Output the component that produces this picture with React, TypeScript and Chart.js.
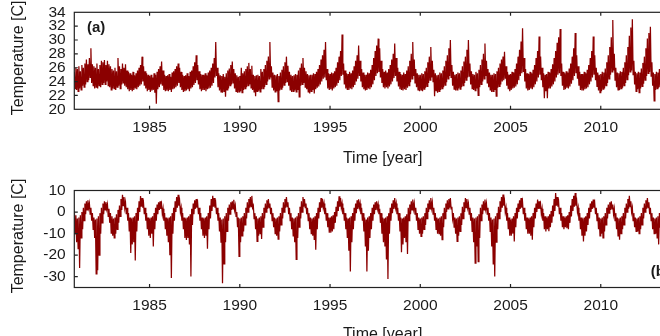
import { useEffect, useRef } from "react";
import { Chart, registerables } from "chart.js";

Chart.register(...registerables);

// Semi-monthly samples (alternating upper / lower reading of the daily band),
// starting with the first half of November 1980.
const FIRST_SAMPLE_YEAR = 1980 + 20 / 24;
const SAMPLES_PER_YEAR = 24;

const X_MIN = 1980.83;
const X_MAX = 2015;

const yearTicks = [1985, 1990, 1995, 2000, 2005, 2010];
const upperTicks = [20, 22, 24, 26, 28, 30, 32, 34];
const lowerTicks = [-30, -20, -10, 0, 10];

// Panel (a) temperature [C]
const tempA: number[] = [
  25.4, 23.0, 26.0, 22.8, // 1980
  25.8, 22.6, 26.2, 23.0, 25.5, 22.8, 26.4, 23.4, 26.0, 23.2, 26.6, 23.6, 27.2, 24.0, 26.5, 24.2, 27.4, 24.6, 28.8, 23.8, 26.5, 23.4, 26.2, 23.0, // 1981
  26.0, 23.2, 26.6, 23.0, 25.8, 23.4, 26.4, 23.2, 27.0, 23.6, 26.8, 23.8, 27.1, 23.6, 26.4, 24.0, 27.0, 23.4, 26.5, 23.2, 26.2, 22.8, 25.8, 23.0, // 1982
  25.6, 23.0, 26.0, 22.8, 25.5, 23.2, 27.4, 23.4, 26.2, 23.0, 25.8, 23.6, 26.6, 23.8, 26.0, 23.4, 26.5, 23.2, 25.6, 22.9, 25.4, 22.6, 25.2, 22.8, // 1983
  25.0, 22.6, 25.4, 22.8, 24.9, 23.0, 25.2, 22.9, 25.6, 23.2, 26.0, 23.4, 26.4, 23.6, 27.6, 24.0, 26.2, 23.4, 25.5, 23.0, 25.2, 22.6, 25.0, 22.8, // 1984
  24.8, 22.5, 25.0, 22.7, 24.6, 22.8, 25.2, 22.4, 25.0, 20.8, 25.4, 22.9, 25.8, 23.2, 26.2, 23.6, 26.9, 23.4, 25.6, 22.8, 25.0, 22.6, 24.8, 22.7, // 1985
  24.9, 22.6, 25.1, 22.8, 24.7, 22.5, 25.3, 22.9, 25.5, 23.0, 25.8, 23.2, 26.2, 23.4, 26.6, 23.8, 26.0, 23.2, 25.4, 22.8, 25.0, 22.5, 24.8, 22.6, // 1986
  24.9, 22.7, 25.2, 22.9, 24.8, 22.6, 25.4, 23.0, 25.6, 23.2, 26.2, 23.5, 26.8, 23.8, 27.8, 24.2, 26.4, 23.6, 25.5, 22.9, 25.1, 22.6, 25.0, 22.8, // 1987
  25.0, 22.8, 25.2, 22.6, 24.9, 22.9, 25.3, 23.0, 25.6, 23.1, 26.0, 23.4, 26.6, 23.8, 27.4, 24.6, 29.7, 24.8, 26.0, 23.2, 25.2, 22.7, 24.9, 22.5, // 1988
  24.8, 22.4, 25.1, 22.6, 24.7, 21.8, 25.2, 22.8, 25.6, 23.0, 25.9, 23.4, 26.4, 23.6, 26.9, 23.8, 25.8, 23.0, 25.2, 22.6, 24.9, 22.4, 24.7, 22.5, // 1989
  24.8, 22.6, 26.0, 22.4, 25.2, 22.8, 25.5, 23.0, 25.8, 23.2, 26.2, 23.4, 26.7, 23.6, 25.8, 23.1, 26.3, 22.8, 25.0, 22.5, 24.8, 21.9, 24.9, 22.6, // 1990
  25.0, 22.7, 24.8, 22.5, 25.8, 22.9, 25.4, 23.0, 25.8, 23.2, 26.4, 23.6, 27.0, 24.0, 27.6, 24.4, 29.7, 24.6, 26.2, 23.2, 25.3, 22.7, 25.0, 22.5, // 1991
  24.9, 22.6, 25.1, 21.1, 24.8, 22.7, 25.3, 22.9, 25.7, 23.1, 26.2, 23.5, 26.8, 23.8, 27.6, 24.0, 26.3, 23.4, 25.4, 22.8, 25.0, 22.5, 24.8, 22.6, // 1992
  24.9, 22.7, 25.1, 22.5, 25.0, 22.8, 25.6, 21.8, 26.0, 23.4, 26.6, 23.6, 27.4, 23.8, 26.0, 23.2, 25.5, 22.9, 25.1, 22.5, 24.9, 22.3, 25.0, 22.6, // 1993
  25.0, 22.8, 25.2, 22.3, 25.1, 22.9, 25.4, 23.1, 25.8, 23.3, 26.4, 23.6, 27.2, 24.0, 27.8, 24.4, 28.6, 24.6, 29.7, 24.2, 25.8, 23.0, 25.2, 22.8, // 1994
  25.1, 22.9, 25.3, 22.7, 25.2, 23.0, 25.5, 23.2, 26.0, 23.4, 26.8, 23.8, 27.6, 24.2, 28.4, 24.8, 30.8, 25.0, 26.6, 23.6, 25.6, 23.0, 25.2, 22.8, // 1995
  25.1, 22.8, 25.4, 23.0, 25.2, 22.9, 25.6, 23.2, 26.2, 23.5, 27.0, 24.0, 27.8, 24.4, 29.2, 24.8, 27.0, 24.0, 25.8, 23.2, 25.3, 22.9, 25.0, 22.7, // 1996
  25.0, 22.8, 25.3, 23.0, 25.2, 22.9, 25.7, 23.2, 26.4, 23.6, 27.4, 24.2, 28.4, 24.8, 29.2, 25.2, 30.2, 25.4, 28.8, 24.6, 27.0, 23.8, 25.8, 23.2, // 1997
  25.4, 23.0, 25.6, 23.2, 25.3, 23.0, 25.8, 23.3, 26.4, 23.6, 27.2, 24.0, 28.0, 24.5, 29.5, 24.8, 27.4, 24.0, 26.0, 23.3, 25.4, 22.9, 25.1, 22.8, // 1998
  25.0, 22.7, 25.3, 22.9, 25.1, 22.8, 25.6, 23.1, 26.2, 23.4, 27.0, 23.9, 28.0, 24.4, 29.7, 24.8, 27.2, 23.8, 25.8, 23.2, 25.2, 22.8, 25.0, 22.6, // 1999
  25.0, 22.8, 25.2, 22.6, 25.1, 22.9, 25.5, 23.1, 26.0, 23.3, 26.8, 23.8, 27.6, 24.2, 29.0, 24.6, 27.0, 24.0, 25.7, 21.9, 25.2, 22.7, 24.9, 22.4, // 2000
  25.0, 22.6, 25.3, 22.8, 25.2, 23.0, 25.6, 23.2, 26.2, 23.5, 27.0, 23.9, 27.8, 24.4, 28.8, 24.8, 30.0, 24.6, 26.4, 23.4, 25.4, 22.9, 25.0, 22.7, // 2001
  25.1, 22.8, 25.3, 23.0, 25.2, 22.9, 25.6, 23.2, 26.2, 23.4, 26.9, 23.8, 27.6, 24.2, 28.6, 24.6, 30.0, 24.8, 26.6, 23.6, 25.5, 23.0, 25.1, 22.8, // 2002
  25.0, 22.7, 25.4, 23.0, 25.2, 22.0, 25.7, 23.2, 26.4, 23.6, 27.2, 24.0, 28.0, 24.4, 29.5, 24.8, 27.0, 23.8, 25.8, 23.2, 25.3, 22.8, 25.0, 22.5, // 2003
  25.0, 22.6, 25.2, 22.8, 25.1, 21.9, 25.5, 23.1, 26.0, 23.3, 26.6, 23.6, 27.2, 24.0, 27.6, 24.2, 28.3, 24.4, 26.2, 23.4, 25.4, 22.9, 25.0, 22.6, // 2004
  25.1, 22.8, 25.4, 23.0, 25.3, 23.1, 25.8, 23.3, 26.6, 23.6, 27.6, 24.2, 28.6, 24.8, 29.8, 25.2, 31.7, 25.4, 27.4, 24.0, 25.8, 23.0, 25.2, 22.7, // 2005
  25.1, 22.8, 25.4, 23.0, 25.2, 22.9, 25.7, 23.2, 26.4, 23.6, 27.4, 24.0, 28.4, 24.6, 30.5, 25.0, 27.6, 24.2, 26.0, 23.2, 25.2, 21.6, 25.0, 22.6, // 2006
  25.1, 21.6, 25.4, 23.0, 25.3, 23.0, 25.8, 23.3, 26.5, 23.6, 27.4, 24.0, 28.4, 24.6, 29.6, 25.0, 30.4, 25.2, 31.6, 24.8, 26.6, 23.4, 25.4, 22.8, // 2007
  25.2, 22.9, 25.5, 23.1, 25.3, 23.0, 25.9, 23.3, 26.6, 23.7, 27.6, 24.2, 28.8, 24.8, 31.0, 25.2, 27.8, 24.4, 26.2, 23.4, 25.4, 22.8, 25.1, 22.7, // 2008
  25.1, 22.7, 25.4, 22.9, 25.2, 23.0, 25.7, 23.2, 26.4, 23.6, 27.4, 24.0, 28.4, 24.6, 30.5, 25.0, 27.8, 24.2, 26.0, 23.3, 25.3, 22.7, 25.0, 22.4, // 2009
  25.1, 22.6, 25.4, 22.9, 25.3, 23.0, 25.9, 23.4, 26.8, 23.8, 27.8, 24.4, 29.0, 25.0, 30.4, 25.4, 32.9, 25.6, 28.0, 24.2, 26.0, 23.2, 25.3, 22.8, // 2010
  25.2, 22.8, 25.5, 23.0, 25.4, 23.1, 26.0, 23.4, 26.8, 23.8, 27.8, 24.3, 29.0, 24.9, 30.6, 25.4, 31.8, 25.6, 33.0, 25.0, 27.0, 23.6, 25.4, 22.6, // 2011
  25.2, 22.9, 25.4, 22.4, 25.3, 23.0, 25.9, 23.3, 26.7, 23.7, 27.6, 24.2, 28.8, 24.8, 30.2, 25.2, 31.0, 25.4, 31.9, 24.8, 26.8, 23.4, 25.3, 21.2, // 2012
  25.1, 22.8, 25.4, 23.0, 25.3, 23.1, 25.8, 23.3, 26.6, 23.7, 27.5, 24.2, 28.6, 24.8, 30.0, 25.2, 31.4, 25.4, 28.0, 24.2, 26.0, 23.2, 25.2, 22.8, // 2013
];

// Panel (b) temperature [C]
const tempB: number[] = [
  0.5, -10, -1.5, -14, // 1980
  -3, -17, -2.5, -26, -1.5, -12, 0, -8, 2, -4, 4, -1, 5, 1, 5.5, 2, 4, -1, 2, -4, -0.5, -8, -2.5, -12, // 1981
  -3.5, -28.7, -3, -27, -2, -20, -0.5, -10, 2, -5, 4, -1, 5, 1, 4.6, 1.5, 3.5, -2, 1.5, -5, -0.5, -9.8, -2, -11, // 1982
  -3, -12, -2.5, -10, -1, -8, 1, -5, 3, -2, 6, 1, 8, 3, 7, 2, 4.5, -1, 2, -4, -0.5, -9, -2.5, -19, // 1983
  -3, -15, -2.5, -14, -2, -22.5, -0.5, -9, 2, -4, 5, 0, 7.4, 2.5, 6.5, 2, 4, -1, 2, -4, -0.5, -8, -2.5, -11, // 1984
  -3, -12, -2.5, -10, -2, -16, -0.5, -8, 2, -4, 3.5, -1, 4.5, 1, 5, 1.5, 3.5, -1, 1.5, -4, -0.5, -8, -2.5, -11, // 1985
  -3, -14, -2.5, -20, -2, -30.6, -0.5, -10, 2, -4, 5, 0, 7, 2, 8, 3, 5, 0, 2, -4, -0.5, -8, -2.5, -12, // 1986
  -3, -13, -2.5, -12, -2, -15, -1, -29.9, 1.5, -6, 4, -1, 5.5, 1.5, 6, 2, 4, -1, 2, -4, -0.5, -8, -2.5, -11, // 1987
  -3, -12, -2.5, -11, -2, -17, -0.5, -8, 3, -3, 6, 0.5, 7.5, 2.5, 6.5, 2, 4, -1, 2, -4, -0.5, -9, -2.5, -14, // 1988
  -3.5, -33, -3, -24, -2, -14, -0.5, -9, 2, -4, 3.5, -1, 4.5, 1, 5, 1.5, 5.7, 1, 3, -2, 0, -7, -2.5, -20.6, // 1989
  -3, -14, -2.5, -11, -2, -9, -0.5, -6, 2, -3, 4.5, 0, 6, 2, 7, 2.5, 7.5, 2, 3, -3, -0.5, -8, -2, -13.6, // 1990
  -3, -11, -2.5, -10, -2, -12.5, -0.5, -7, 2, -3, 4, 0, 5.5, 1.5, 6, 2, 4, -1, 2, -4, -0.5, -7, -2.5, -10, // 1991
  -3, -11, -2.5, -12.5, -2, -9, -0.5, -6, 2, -3, 4.5, 0, 6, 2, 7, 2.5, 4.5, -1, 2, -4, -0.5, -8, -2.5, -11, // 1992
  -3, -14, -2.5, -22, -2, -12, -0.5, -7, 2.5, -3, 5, 0, 7, 2.5, 6, 2, 4, -1, 2, -4, -0.5, -8, -2.5, -10, // 1993
  -3, -11, -2.5, -13, -2, -17.5, -0.5, -8, 2, -3, 4.5, 0, 6.5, 2, 6, 2, 4, -1, 2, -4, -0.5, -7, -2.5, -9.6, // 1994
  -2.5, -9.6, -2, -9, -1.5, -8, 0, -5, 2.5, -2, 5, 0.5, 7.3, 2.5, 6.5, 2, 4, -1, 2, -4, -0.5, -8, -2.5, -12, // 1995
  -3, -18, -2.5, -27.6, -2, -14, -0.5, -8, 2, -4, 4, -0.5, 5.5, 1.5, 5.9, 2, 4, -1, 2, -4, -0.5, -9, -2.5, -16, // 1996
  -3.5, -27.6, -2.5, -18, -2, -12, -0.5, -8, 2, -4, 3.5, -1, 4.5, 1, 5, 1.5, 3.5, -1, 1.5, -5, -0.5, -10, -2.5, -14, // 1997
  -3, -16, -2.5, -22, -2, -31.1, -0.5, -10, 2, -4, 4, -0.5, 5.5, 1.5, 6.5, 2, 4, -1, 2, -4, -0.5, -9, -2.5, -18.6, // 1998
  -3, -15, -2.5, -12, -2, -14, -1, -19.4, 2, -4, 3.5, -1, 5, 1, 5.8, 1.5, 4, -1, 2, -4, -0.5, -8, -2.5, -10, // 1999
  -3, -11.3, -2.5, -10, -2, -8, -0.5, -6, 2, -3, 4, 0, 5.5, 1.5, 6.5, 2, 4.5, -1, 2, -4, -0.5, -8, -2.5, -10, // 2000
  -3, -10, -2.5, -11, -2, -12.8, -0.5, -7, 2, -3, 4, 0, 5.5, 1.5, 6, 2, 6.5, 1.5, 2.5, -3, -0.5, -7, -2.5, -10, // 2001
  -3, -13.6, -2.5, -11, -2, -9, -0.5, -6, 2.5, -3, 4.5, 0, 6.5, 2, 6, 2, 4, -1, 2, -4, -0.5, -9, -2.5, -14, // 2002
  -3, -23.7, -2.5, -16, -2, -23, -1, -12, 2, -4, 3.5, -1, 5, 1, 5.8, 1.5, 4, -1, 2, -4, -0.5, -9, -2.5, -16, // 2003
  -3.5, -24, -3, -29.9, -2, -14, -0.5, -8, 2.5, -3, 5, 0, 7, 2, 8.1, 3, 5, 0, 2, -4, -0.5, -8, -2.5, -11, // 2004
  -3.5, -11, -3, -10, -2, -13.6, -0.5, -7, 2, -3, 4, 0, 5.5, 1.5, 6.5, 2, 4.5, -1, 2, -4, -0.5, -8, -2.5, -10, // 2005
  -3, -10, -2.5, -11, -2, -12.8, -0.5, -7, 2, -3, 4, 0, 5.8, 1.5, 5, 1.5, 3.5, -1, 1.5, -4, -0.5, -8, -2, -9, // 2006
  -2.5, -8, -2, -8.9, -1, -7, 0.5, -5, 3, -2, 6, 0.5, 8.8, 3, 7, 2.5, 4.5, -1, 2, -4, -0.5, -7, -2, -8, // 2007
  -2.5, -7, -2, -7.5, -1.5, -8, 0, -5, 3, -2, 6, 0.5, 7.5, 2.5, 8.8, 3, 5, 0, 2, -4, -0.5, -8, -2.5, -11, // 2008
  -3, -13.6, -2.5, -11, -2, -9, -0.5, -6, 2, -3, 4, 0, 5, 1.5, 5.8, 2, 4, -1, 2, -4, -0.5, -8, -2.5, -11, // 2009
  -3, -10, -2.5, -12, -2, -9, -0.5, -6, 2, -3, 3.5, -0.5, 4.5, 1, 5, 1.5, 3.5, -1, 1.5, -4, -0.5, -8, -2.5, -11, // 2010
  -3, -12.8, -2.5, -10, -2, -8, -0.5, -6, 2, -3, 4, 0, 6, 1.5, 7.5, 2.5, 5, 0, 2, -4, -0.5, -7, -2.5, -9, // 2011
  -3, -9, -2.5, -10, -2, -8, -0.5, -6, 2, -3, 4, 0, 5.5, 1.5, 6.5, 2, 4.5, -1, 2, -4, -0.5, -8, -2.5, -10, // 2012
  -3, -10, -2.5, -12, -2, -15, -0.5, -7, 2, -3, 3.5, -1, 4.5, 1, 5, 1.5, 3.5, -1, 1.5, -4, -0.5, -8, -2.5, -10, // 2013
];

const FONT = '"Liberation Sans", Arial, Helvetica, sans-serif';
const INK = "#1a1a1a";
const LINE_RED = "#8b0000";

const CANVAS_W = 720;
const CANVAS_H = 186;
const PLOT_LEFT = 74.3;
const PLOT_RIGHT = 691;
const PLOT_H = 97;

type PanelSpec = {
  values: number[];
  yMin: number;
  yMax: number;
  yTicks: number[];
  canvasTop: number; // page offset of the canvas
  plotTop: number; // plot top inside the canvas
  titlePad: number;
  tag: string;
  tagX: number;
  tagY: number;
};

const panelDecor = {
  id: "panelDecor",
  afterDraw(chart: any, _args: any, opts: any) {
    const { ctx, chartArea } = chart;
    const { left, right, top, bottom } = chartArea;
    const xs = chart.scales.x;
    const ys = chart.scales.y;
    ctx.save();
    ctx.strokeStyle = "#222";
    ctx.lineWidth = 1.2;
    ctx.strokeRect(left, top, right - left, bottom - top);
    const tl = 3.5;
    ctx.beginPath();
    for (const v of yearTicks) {
      const px = xs.getPixelForValue(v);
      if (px <= left || px >= right) continue;
      ctx.moveTo(px, bottom);
      ctx.lineTo(px, bottom - tl);
      ctx.moveTo(px, top);
      ctx.lineTo(px, top + tl);
    }
    for (const v of opts.yTicks as number[]) {
      const py = ys.getPixelForValue(v);
      if (py <= top || py >= bottom) continue;
      ctx.moveTo(left, py);
      ctx.lineTo(left + tl, py);
      ctx.moveTo(right, py);
      ctx.lineTo(right - tl, py);
    }
    ctx.stroke();

    // vertical axis title
    ctx.fillStyle = INK;
    ctx.font = `16px ${FONT}`;
    ctx.textAlign = "center";
    ctx.textBaseline = "middle";
    ctx.save();
    ctx.translate(18.7, (top + bottom) / 2 - 3);
    ctx.rotate(-Math.PI / 2);
    ctx.fillText("Temperature [C]", 0, 0);
    ctx.restore();

    // panel tag
    ctx.font = `bold 15px ${FONT}`;
    ctx.textAlign = "left";
    ctx.fillText(opts.tag, opts.tagX, opts.tagY);
    ctx.restore();
  },
};

function makeConfig(spec: PanelSpec): any {
  const points = spec.values.map((v, i) => ({
    x: FIRST_SAMPLE_YEAR + i / SAMPLES_PER_YEAR,
    y: v,
  }));
  return {
    type: "line",
    data: {
      datasets: [
        {
          data: points,
          borderColor: LINE_RED,
          borderWidth: 1.25,
          pointRadius: 0,
          tension: 0,
          fill: false,
        },
      ],
    },
    options: {
      animation: false,
      responsive: false,
      devicePixelRatio: 1,
      events: [],
      layout: {
        padding: { left: 0, right: CANVAS_W - PLOT_RIGHT, top: spec.plotTop, bottom: 0 },
      },
      plugins: {
        legend: { display: false },
        tooltip: { enabled: false },
        panelDecor: { yTicks: spec.yTicks, tag: spec.tag, tagX: spec.tagX, tagY: spec.tagY },
      },
      scales: {
        x: {
          type: "linear",
          min: X_MIN,
          max: X_MAX,
          grid: { display: false, drawTicks: false },
          border: { display: false },
          afterBuildTicks: (s: any) => {
            s.ticks = yearTicks.map((value) => ({ value }));
          },
          afterFit: (s: any) => {
            s.height = CANVAS_H - spec.plotTop - PLOT_H;
            s.paddingLeft = 0;
            s.paddingRight = 0;
          },
          ticks: {
            padding: 9,
            autoSkip: false,
            maxRotation: 0,
            color: INK,
            font: { family: FONT, size: 15.5 },
            callback: (v: any) => String(v),
          },
          title: {
            display: true,
            text: "Time [year]",
            color: INK,
            font: { family: FONT, size: 16 },
            padding: { top: 0, bottom: spec.titlePad },
          },
        },
        y: {
          type: "linear",
          min: spec.yMin,
          max: spec.yMax,
          grid: { display: false, drawTicks: false },
          border: { display: false },
          afterBuildTicks: (s: any) => {
            s.ticks = spec.yTicks.map((value) => ({ value }));
          },
          afterFit: (s: any) => {
            s.width = PLOT_LEFT;
            s.paddingTop = 0;
            s.paddingBottom = 0;
          },
          ticks: {
            padding: 8.6,
            autoSkip: false,
            color: INK,
            font: { family: FONT, size: 15.5 },
            callback: (v: any) => String(v),
          },
        },
      },
    },
    plugins: [panelDecor],
  };
}

const panelA: PanelSpec = {
  values: tempA,
  yMin: 20,
  yMax: 34,
  yTicks: upperTicks,
  canvasTop: 0,
  plotTop: 12.3,
  titlePad: 18,
  tag: "(a)",
  tagX: 87,
  tagY: 27.7,
};

const panelB: PanelSpec = {
  values: tempB,
  yMin: -35,
  yMax: 10,
  yTicks: lowerTicks,
  canvasTop: 170,
  plotTop: 20.5,
  titlePad: 12,
  tag: "(b)",
  tagX: 650.7,
  tagY: 101.7,
};

function Panel({ spec }: { spec: PanelSpec }) {
  const ref = useRef<HTMLCanvasElement | null>(null);
  useEffect(() => {
    if (!ref.current) return;
    const chart = new Chart(ref.current, makeConfig(spec));
    return () => chart.destroy();
  }, [spec]);
  return (
    <canvas
      ref={ref}
      width={CANVAS_W}
      height={CANVAS_H}
      style={{
        position: "absolute",
        left: 0,
        top: spec.canvasTop,
        display: "block",
        width: CANVAS_W,
        height: CANVAS_H,
      }}
    />
  );
}

export default function App() {
  return (
    <>
      <style>{"html,body{margin:0;padding:0;overflow:hidden}"}</style>
      <div
        style={{
          position: "relative",
          width: 660,
          height: 336,
          overflow: "hidden",
          background: "#fff",
        }}
      >
        <Panel spec={panelA} />
        <Panel spec={panelB} />
      </div>
    </>
  );
}
